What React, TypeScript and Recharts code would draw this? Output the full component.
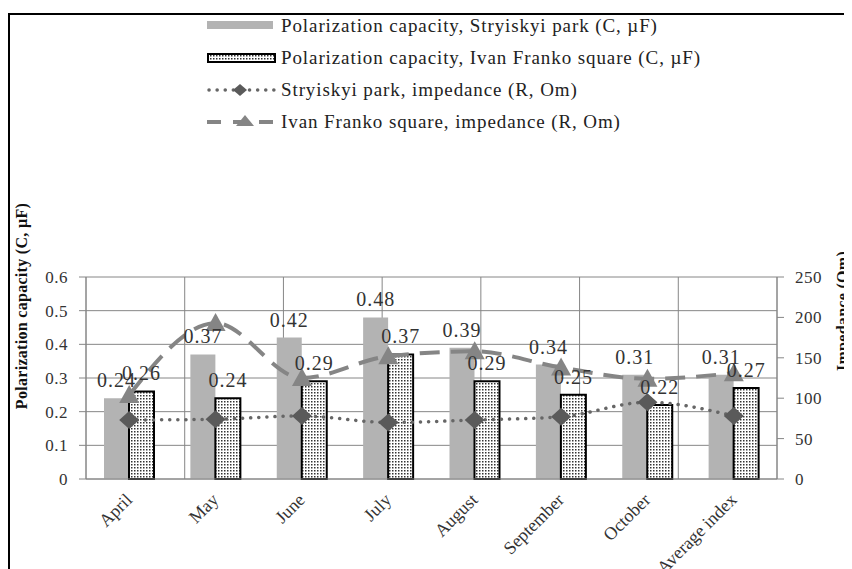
import React from 'react';
import { ComposedChart, Bar, Line, XAxis, YAxis, CartesianGrid, Legend, LabelList } from 'recharts';

const months = ['April', 'May', 'June', 'July', 'August', 'September', 'October', 'Average index'];
const capStryiskyi = [0.24, 0.37, 0.42, 0.48, 0.39, 0.34, 0.31, 0.31];
const capFranko = [0.26, 0.24, 0.29, 0.37, 0.29, 0.25, 0.22, 0.27];
const impStryiskyi = [73, 74, 78, 70, 73, 77, 95, 78];
const impFranko = [104, 193, 125, 152, 158, 138, 124, 131];
const leftTicks = [0, 0.1, 0.2, 0.3, 0.4, 0.5, 0.6];
const rightTicks = [0, 50, 100, 150, 200, 250];
const edgeTicks = [0, 1, 2, 3, 4, 5, 6, 7, 8];

const data = months.map((m, i) => ({
  month: m,
  capS: capStryiskyi[i],
  capF: capFranko[i],
  impS: impStryiskyi[i],
  impF: impFranko[i],
}));

const FONT = '"Liberation Serif", "DejaVu Serif", "Noto Serif", "Times New Roman", Times, serif';
const TEXT = '#333';
const AXIS = '#868686';
const BAR_GRAY = '#b3b3b3';
const DOT_COLOR = '#666';
const DIAMOND = '#5a5a5a';
const DASH_COLOR = '#858585';

const Diamond = (props: any) => {
  const { cx, cy } = props;
  if (cx == null || cy == null) return null;
  return <polygon points={`${cx},${cy - 9} ${cx + 10},${cy} ${cx},${cy + 9} ${cx - 10},${cy}`} fill={DIAMOND} />;
};

const Triangle = (props: any) => {
  const { cx, cy } = props;
  if (cx == null || cy == null) return null;
  return <polygon points={`${cx},${cy - 10} ${cx + 10},${cy + 8} ${cx - 10},${cy + 8}`} fill={DASH_COLOR} />;
};

const MonthTick = (props: any) => {
  const { x, y, payload } = props;
  const tx = x + 4;
  const ty = y + 14;
  return (
    <text x={tx} y={ty} transform={`rotate(-45 ${tx} ${ty})`} textAnchor="end" fill={TEXT} fontSize={18} style={{ fontFamily: FONT }}>
      {payload.value}
    </text>
  );
};

const legendRows = [
  'Polarization capacity, Stryiskyi park (C, \u00b5F)',
  'Polarization capacity, Ivan Franko square (C, \u00b5F)',
  'Stryiskyi park, impedance  (R, Om)',
  'Ivan Franko square, impedance (R, Om)',
];

const LegendBox = () => (
  <svg width={560} height={125} style={{ display: 'block' }}>
    <rect x={0} y={8} width={66} height={8} fill={BAR_GRAY} />
    <rect x={1} y={41} width={67} height={8} fill="url(#dotsLegend)" stroke="#000" strokeWidth={2} />
    <line x1={2} y1={77} x2={68} y2={77} stroke={DOT_COLOR} strokeWidth={3.5} strokeDasharray="0.1 8" strokeLinecap="round" />
    <polygon points="33,71 40,77 33,83 26,77" fill={DIAMOND} />
    <line x1={0} y1={109} x2={70} y2={109} stroke={DASH_COLOR} strokeWidth={4} strokeDasharray="14 12" />
    <polygon points="38,102 47,113 29,113" fill={DASH_COLOR} />
    {legendRows.map((t, i) => (
      <text key={t} x={74} y={19 + i * 32} fill="#222" fontSize={19} letterSpacing={0.9} style={{ fontFamily: FONT }}>
        {t}
      </text>
    ))}
    <defs>
      <pattern id="dotsLegend" width={3} height={3} patternUnits="userSpaceOnUse">
        <rect width={3} height={3} fill="#fff" />
        <rect width={1.5} height={1.5} fill="#333" />
      </pattern>
    </defs>
  </svg>
);

export default function App() {
  return (
    <div style={{ position: 'relative', width: 844, height: 561, overflow: 'hidden', background: '#fff', fontFamily: FONT }}>
      <div
        style={{
          position: 'absolute',
          left: 0,
          top: 5,
          width: 900,
          height: 700,
          borderLeft: '2px solid #000',
          borderTop: '2px solid #000',
          boxSizing: 'border-box',
        }}
      />
      <div style={{ position: 'absolute', left: 0, top: 0 }}>
        <ComposedChart width={844} height={561} data={data} margin={{ top: 144, right: 0, left: 0, bottom: 0 }} barSize={25} barGap={0} style={{ fontFamily: FONT }}>
          <defs>
            <pattern id="dotsFill" width={3} height={3} patternUnits="userSpaceOnUse">
              <rect width={3} height={3} fill="#fff" />
              <rect width={1.5} height={1.5} fill="#333" />
            </pattern>
          </defs>
          <CartesianGrid xAxisId="edge" yAxisId="left" stroke={AXIS} strokeWidth={1} />
          <XAxis
            xAxisId="edge"
            type="number"
            domain={[0, 8]}
            ticks={edgeTicks}
            height={0}
            axisLine={false}
            tickLine={{ stroke: AXIS }}
            tickSize={7}
            tickFormatter={() => ''}
            allowDataOverflow
          />
          <XAxis
            xAxisId="cat"
            dataKey="month"
            height={90}
            axisLine={{ stroke: AXIS }}
            tickLine={false}
            tick={<MonthTick />}
            interval={0}
          />
          <YAxis
            yAxisId="left"
            domain={[0, 0.6]}
            ticks={leftTicks}
            width={78}
            axisLine={{ stroke: AXIS }}
            tickLine={{ stroke: AXIS }}
            tickSize={7}
            tickMargin={11}
            tick={{ fill: TEXT, fontSize: 17, letterSpacing: 0.5, style: { fontFamily: FONT } }}
            tickFormatter={(v: number) => (v === 0 ? '0' : v.toFixed(1))}
            label={{
              content: () => (
                <text x={19} y={298} transform="rotate(-90 19 298)" textAnchor="middle" fontWeight="bold" fontSize={16} letterSpacing={0.3} fill="#111" style={{ fontFamily: FONT }}>
                  Polarization capacity (C, {'\u00b5'}F)
                </text>
              ),
            }}
          />
          <YAxis
            yAxisId="right"
            orientation="right"
            domain={[0, 250]}
            ticks={rightTicks}
            width={75}
            axisLine={{ stroke: AXIS }}
            tickLine={{ stroke: AXIS }}
            tickSize={7}
            tickMargin={11}
            tick={{ fill: TEXT, fontSize: 17, letterSpacing: 0.5, style: { fontFamily: FONT } }}
            label={{
              content: () => (
                <text x={840} y={303} transform="rotate(-90 840 303)" textAnchor="middle" fontWeight="bold" fontSize={16} letterSpacing={0.3} fill="#111" style={{ fontFamily: FONT }}>
                  Impedance (Om)
                </text>
              ),
            }}
          />
          <Legend
            layout="vertical"
            align="center"
            verticalAlign="top"
            wrapperStyle={{ top: 5, left: 199, width: 560 }}
            content={() => <LegendBox />}
          />
          <Bar xAxisId="cat" yAxisId="left" dataKey="capS" fill={BAR_GRAY} isAnimationActive={false}>
            <LabelList dataKey="capS" position="top" offset={11} fill={TEXT} fontSize={20} letterSpacing={1} style={{ fontFamily: FONT }} formatter={(v: any) => Number(v).toFixed(2)} />
          </Bar>
          <Bar xAxisId="cat" yAxisId="left" dataKey="capF" fill="url(#dotsFill)" stroke="#000" strokeWidth={2} isAnimationActive={false}>
            <LabelList dataKey="capF" position="top" offset={11} fill={TEXT} fontSize={20} letterSpacing={1} style={{ fontFamily: FONT }} formatter={(v: any) => Number(v).toFixed(2)} />
          </Bar>
          <Line
            xAxisId="cat"
            yAxisId="right"
            dataKey="impS"
            type="monotone"
            stroke={DOT_COLOR}
            strokeWidth={3.5}
            strokeDasharray="0.1 8"
            strokeLinecap="round"
            dot={<Diamond />}
            activeDot={false}
            isAnimationActive={false}
          />
          <Line
            xAxisId="cat"
            yAxisId="right"
            dataKey="impF"
            type="monotone"
            stroke={DASH_COLOR}
            strokeWidth={4}
            strokeDasharray="20 11"
            dot={<Triangle />}
            activeDot={false}
            isAnimationActive={false}
          />
        </ComposedChart>
      </div>
    </div>
  );
}
